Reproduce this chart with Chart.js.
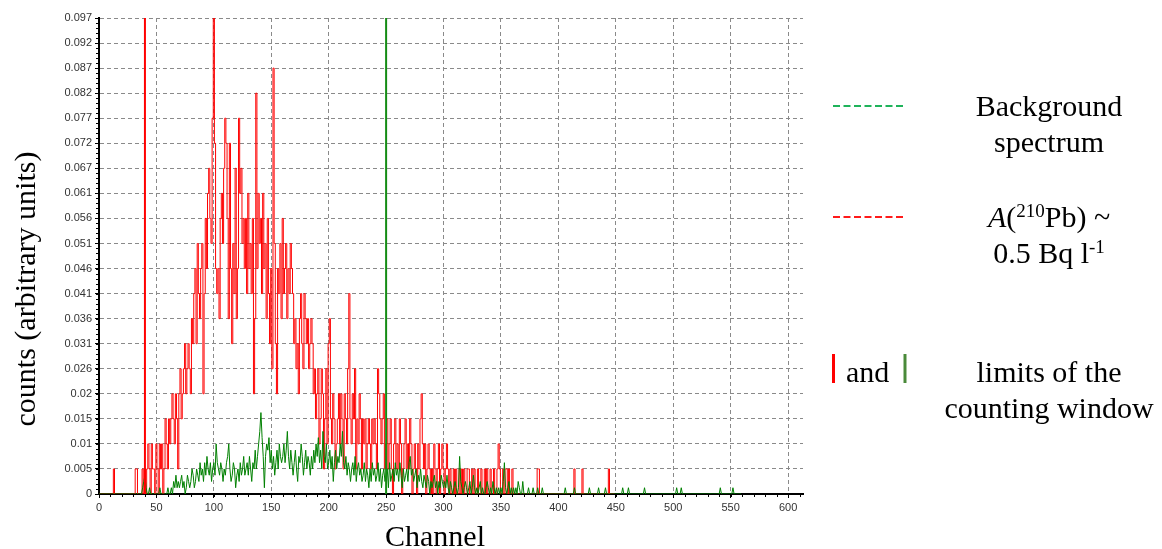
<!DOCTYPE html>
<html><head><meta charset="utf-8">
<script src="https://cdn.jsdelivr.net/npm/chart.js@4.4.1/dist/chart.umd.min.js"></script>
<style>
html,body{margin:0;padding:0;background:#fff;}
#wrap{position:relative;width:1162px;height:549px;overflow:hidden;}
#c{position:absolute;left:0;top:0;}
.t{position:absolute;font-family:"Liberation Serif","Times New Roman",serif;font-size:30px;color:#000;line-height:36px;white-space:nowrap;}
.ctr{text-align:center;width:320px;}
sup{font-size:19px;line-height:0;vertical-align:0.55em;}
</style></head>
<body><div id="wrap">
<canvas id="c" width="1162" height="549"></canvas>
<svg style="position:absolute;left:0;top:0" width="1162" height="549">
 <line x1="833" y1="106" x2="905" y2="106" stroke="#1fb35a" stroke-width="2" stroke-dasharray="7 3.5"/>
 <line x1="833" y1="217" x2="905" y2="217" stroke="#ff1a1a" stroke-width="2" stroke-dasharray="7 3.5"/>
 <line x1="833.5" y1="354" x2="833.5" y2="383" stroke="#ff0000" stroke-width="3"/>
 <line x1="905" y1="354" x2="905" y2="383" stroke="#4a8a3a" stroke-width="3"/>
</svg>
<div class="t ctr" style="left:889px;top:88px;">Background<br>spectrum</div>
<div class="t ctr" style="left:889px;top:199px;"><i>A</i>(<sup>210</sup>Pb) ~<br>0.5 Bq l<sup>-1</sup></div>
<div class="t" style="left:846px;top:354px;">and</div>
<div class="t ctr" style="left:889px;top:354px;">limits of the<br>counting window</div>
<div class="t" style="top:274px;width:400px;height:30px;line-height:30px;text-align:center;transform-origin:center;left:-175px;transform:rotate(-90deg);">counts (arbitrary units)</div>
<div class="t" style="left:335px;top:521px;width:200px;line-height:30px;text-align:center;">Channel</div>
</div>
<script>
// y axis tick labels (one per count step, 0..19)
const yTickLabels = ['0','0.005','0.01','0.015','0.02','0.026','0.031','0.036','0.041','0.046','0.051','0.056','0.061','0.067','0.072','0.077','0.082','0.087','0.092','0.097'];
const xTickValues = [0,50,100,150,200,250,300,350,400,450,500,550,600];
const windowLimits = [40, 250];

// A(210Pb) spectrum, counts per channel starting at channel 0 (in y-tick steps)
const redCounts = [
 0,0,0,0,0,0,0,0,0,0, 0,0,0,1,0,0,0,0,0,0, 0,0,0,0,0,0,0,0,0,0, 0,0,1,1,0,0,0,0,1,0,
 1,0,1,2,1,0,2,1,1,0, 2,1,0,2,1,2,0,1,3,2, 1,3,2,3,4,3,2,4,3,1, 4,5,3,4,5,6,4,5,6,5,
 4,7,6,8,9,6,10,8,7,9, 10,4,8,11,9,12,13,11,10,15, 19,14,9,8,9,7,11,12,10,13, 15,14,11,7,14,9,6,10,8,13,
 7,9,15,12,13,10,11,9,11,8, 12,9,10,8,11,4,7,16,9,12, 10,11,8,12,9,10,7,11,8,6, 9,5,17,10,6,4,9,8,10,7,
 11,8,9,10,7,9,8,10,9,8, 6,7,5,6,4,7,8,6,5,8, 7,6,7,5,6,7,6,4,5,3, 4,5,2,3,5,4,1,3,5,2,
 6,7,3,2,4,3,1,2,3,4, 2,4,3,1,4,3,2,5,8,3, 2,4,3,5,1,3,2,4,3,1, 3,2,3,1,2,3,2,1,3,2,
 3,2,1,5,4,3,2,3,4,1, 2,3,1,2,3,1,0,2,3,1, 2,1,3,2,0,1,2,3,1,2, 1,3,2,0,1,2,1,0,2,1,
 3,4,2,1,2,0,1,2,1,0, 1,0,2,1,0,1,2,0,1,2, 1,0,1,2,1,0,1,0,0,1, 0,1,0,0,1,0,1,0,1,0,
 0,1,1,0,0,1,0,1,0,0, 1,0,0,1,0,0,1,0,1,0, 0,1,0,0,1,0,0,1,2,1, 0,0,1,0,1,1,0,1,0,0,
 1,0,0,0,0,0,0,0,0,0, 0,0,0,0,0,0,0,0,0,0, 0,0,1,1,0,0,0,0,0,0, 0,0,0,0,0,0,0,0,0,0,
 0,0,0,0,0,0,0,0,0,0, 0,0,0,0,1,0,0,0,0,0, 0,1,0,0,0,0,0,0,0,0, 0,0,0,0,0,0,0,0,0,0,
 0,0,0,0,1,0,0,0,0,0
];
// Background spectrum, per channel starting at channel 0 (in y-tick steps)
const greenCounts = [
 0,0,0,0,0,0,0,0,0,0, 0,0,0,0,0,0,0,0,0,0, 0,0,0,0,0,0,0,0,0,0, 0,0,0,0,0,0,0,0,0.25,0.5,
 0.75,0.25,0,0,0.25,0,0,0,0,0, 0,0,0,0.25,0,0,0,0,0,0, 0.25,0,0,0.25,0,0.5,0.25,0.75,0.25,0.5, 0.25,0.5,0.75,0.25,0.5,0,0.25,0.75,0.5,0.25,
 0.5,1,0.75,0.25,0.5,1,0.75,0.5,1.25,0.75, 1,0.5,1.25,0.75,1.5,1,0.75,1.25,0.5,1, 1.25,0.75,2,1.25,1,0.75,1.25,1,0.5,1, 0.75,1.25,1.5,2,1,0.5,0.75,1.25,1,0.25,
 0.75,1,0.5,1.25,0.75,1,1.5,0.75,1,1.25, 0.75,1.5,1,0.5,1.25,1,1.75,1,1.5,2, 2.5,3.25,2.25,1.5,0.25,1.5,2,1.75,2.25,1.25, 1.75,1,1.5,0.75,1.25,1.75,1,2,1.5,1.25,
 1.5,2,1.25,1.75,2.5,1.5,1,1.75,1.25,0.75, 1.25,1.75,1,0.5,1.5,1.25,2,1.5,0.75,1.25, 1.75,1,1.5,1.25,0.75,1.5,1,1.75,1.25,2, 1.5,2.25,1.25,1.75,1,2.5,1.5,1.25,2,1,
 1.25,1.75,1,1.5,0.5,1.25,1.75,1,1.5,1.25, 2,1.5,2.5,1.25,1,1.5,0.75,1.25,1,0.5, 1,1.25,0.75,1.5,0.5,1,1.25,0.75,1,0.5, 0.75,1.25,0.5,1,0.75,0.25,1,0.5,1.25,0.75,
 1,0.5,0.75,1.25,0.5,1,0.25,0.75,1,0.5, 0.75,1,0.25,1.25,0.5,0.75,1,0.5,1.25,0.75, 1,0.5,1.25,0.75,0.25,1,0.5,0.75,1,0.5, 1.25,1.5,0.75,1,0.5,0.75,1,0.25,0.75,0.5,
 1,0.5,0.25,0.75,0.5,0.25,0.75,0.5,0,0.5, 0.25,0.5,0.75,0.25,0.5,0,0.5,0.25,0.75,0.5, 0.25,0.5,0.25,0.75,0.25,0,0.5,0.25,0,0.25, 0.5,0.25,0,0.25,1.5,0.5,0.25,0,0.25,0.5,
 0.25,0,0.25,0.5,0,0.25,0.75,0.25,0,0.25, 0,0.25,0.5,0,0.25,0,0,0.25,0.5,0.25, 0,0.25,0,0.5,0.25,0,0.25,0,0.25,0, 0.25,0,0.5,1.25,0.25,0,0.25,0.5,0,0.25,
 0,0.25,0,0.25,0,0.5,0.25,0,0,0.5, 0,0,0,0,0.25,0,0,0,0.25,0, 0,0,0.25,0,0,0,0.25,0,0,0, 0,0,0,0,0,0,0,0,0,0,
 0,0,0,0,0,0,0.25,0,0,0, 0,0,0,0,0.25,0,0,0,0,0, 0,0,0,0,0,0,0,0.25,0,0, 0,0,0,0,0,0.25,0,0,0,0,
 0,0.25,0,0,0,0,0,0,0,0, 0,0,0,0,0,0,0.25,0,0,0, 0,0.25,0,0,0,0,0,0,0,0, 0,0,0,0,0,0.25,0,0,0,0,
 0,0,0,0,0,0,0,0,0,0, 0,0,0,0,0,0,0,0,0,0, 0,0,0,0.25,0,0,0,0.25,0,0, 0,0,0,0,0,0,0,0,0,0,
 0,0,0,0,0,0,0,0,0,0, 0,0,0,0,0,0,0,0,0,0, 0,0.25,0,0,0,0,0,0,0,0, 0,0,0.25,0,0,0,0,0,0,0
];

const yMax = yTickLabels.length - 1;
const toPts = arr => arr.map((v, i) => ({x: i, y: v}));

const minorTicks = {
  id: 'minorTicks',
  afterDraw(chart) {
    const {ctx, scales: {x, y}} = chart;
    ctx.save();
    ctx.strokeStyle = '#000';
    ctx.lineWidth = 1;
    ctx.beginPath();
    for (let k = 0; k <= yMax * 5; k++) {
      const py = Math.round(y.getPixelForValue(k / 5)) + 0.5;
      ctx.moveTo(x.left - 3, py); ctx.lineTo(x.left, py);
    }
    for (let c = 0; c <= x.max; c += 10) {
      const px = Math.round(x.getPixelForValue(c)) + 0.5;
      ctx.moveTo(px, y.bottom); ctx.lineTo(px, y.bottom + 3);
    }
    ctx.stroke();
    ctx.restore();
  }
};

new Chart(document.getElementById('c'), {
  type: 'line',
  data: {
    datasets: [
      {label: 'Window start', data: [{x: windowLimits[0], y: 0}, {x: windowLimits[0], y: yMax}], borderColor: 'rgb(255,0,0)', borderWidth: 2, pointRadius: 0, order: 2},
      {label: 'Window end', data: [{x: windowLimits[1], y: 0}, {x: windowLimits[1], y: yMax}], borderColor: 'rgb(20,140,20)', borderWidth: 2, pointRadius: 0, order: 1},
      {label: 'Background spectrum', data: toPts(greenCounts), borderColor: 'rgb(0,128,0)', borderWidth: 1, pointRadius: 0, tension: 0, order: 3},
      {label: 'A(210Pb) ~ 0.5 Bq l-1', data: toPts(redCounts), borderColor: 'rgb(255,0,0)', borderWidth: 1, pointRadius: 0, stepped: 'middle', order: 4}
    ]
  },
  options: {
    responsive: false,
    animation: false,
    layout: {padding: {left: 0, top: 18, right: 359, bottom: 0}},
    plugins: {legend: {display: false}, tooltip: {enabled: false}},
    scales: {
      x: {
        type: 'linear', min: 0, max: 613,
        afterBuildTicks: s => { s.ticks = xTickValues.map(v => ({value: v})); },
        afterFit: s => { s.height = 55; },
        grid: {color: '#8a8a8a', lineWidth: 1, tickLength: 4, tickColor: '#000'},
        border: {display: true, color: '#000', width: 2, dash: [4, 3]},
        ticks: {font: {family: 'Liberation Sans', size: 11}, color: '#333', padding: 3, maxRotation: 0, autoSkip: false}
      },
      y: {
        type: 'linear', min: 0, max: yMax,
        afterBuildTicks: s => { s.ticks = yTickLabels.map((_, i) => ({value: i})); },
        afterFit: s => { s.width = 99; },
        grid: {color: '#8a8a8a', lineWidth: 1, tickLength: 4, tickColor: '#000'},
        border: {display: true, color: '#000', width: 2, dash: [4, 3]},
        ticks: {font: {family: 'Liberation Sans', size: 11}, color: '#333', padding: 3, autoSkip: false,
          callback: v => yTickLabels[v]}
      }
    }
  },
  plugins: [minorTicks]
});
</script>
</body></html>
